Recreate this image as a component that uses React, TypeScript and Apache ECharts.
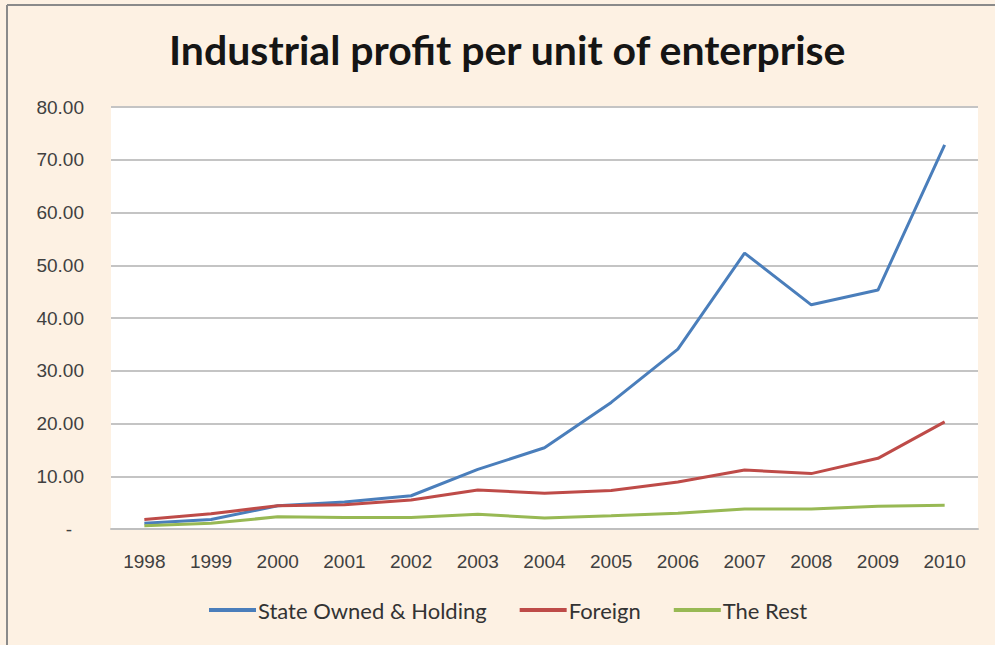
import React, { useEffect, useRef } from "react";
import * as echarts from "echarts";

const years = ["1998", "1999", "2000", "2001", "2002", "2003", "2004", "2005", "2006", "2007", "2008", "2009", "2010"];
const stateOwned = [1.1, 1.8, 4.4, 5.1, 6.3, 11.3, 15.4, 24.0, 34.1, 52.3, 42.5, 45.3, 72.8];
const foreign = [1.8, 2.9, 4.4, 4.6, 5.5, 7.4, 6.8, 7.3, 8.9, 11.2, 10.5, 13.4, 20.3];
const theRest = [0.6, 1.1, 2.3, 2.2, 2.2, 2.8, 2.1, 2.5, 3.0, 3.8, 3.8, 4.3, 4.5];
const seriesNames = ["State Owned & Holding", "Foreign", "The Rest"];
const colors = ["#4a7ebb", "#be4b48", "#98b954"];

export default function App() {
  const ref = useRef<HTMLDivElement>(null);
  useEffect(() => {
    document.body.style.margin = "0";
    const chart = echarts.init(ref.current!, null, { renderer: "svg" });
    const font = "Liberation Sans";
    chart.setOption({
      animation: false,
      backgroundColor: "#fdf1e3",
      title: {
        text: "Industrial profit per unit of enterprise",
        left: 164,
        top: 24,
        textStyle: { fontFamily: "Lato", fontWeight: "bold", fontSize: 41, color: "#151515" },
      },
      legend: {
        left: 204,
        top: 594,
        icon: "rect",
        itemWidth: 47,
        itemHeight: 4,
        itemGap: 33,
        textStyle: { fontFamily: "Lato", fontSize: 22, color: "#333", padding: [0, 0, 0, -3] },
        data: seriesNames,
      },
      grid: {
        left: 111,
        right: 17,
        top: 107,
        bottom: 116,
        show: true,
        backgroundColor: "#ffffff",
        borderWidth: 0,
      },
      xAxis: {
        type: "category",
        data: years,
        boundaryGap: true,
        axisLine: { lineStyle: { color: "#bfbfbf", width: 2 } },
        axisTick: { show: false },
        axisLabel: { fontFamily: font, fontSize: 19, color: "#404040", margin: 23 },
      },
      yAxis: {
        type: "value",
        min: 0,
        max: 80,
        interval: 10,
        axisLine: { show: false },
        axisTick: { show: false },
        splitLine: { lineStyle: { color: "#c4c4c4", width: 2 } },
        axisLabel: {
          fontFamily: font,
          fontSize: 19,
          color: "#404040",
          margin: 27,
          formatter: (v: number) => (v === 0 ? "{d|-}" : v.toFixed(2)),
          rich: { d: { fontFamily: font, fontSize: 19, color: "#404040", padding: [0, 12, 0, 0] } },
        },
      },
      series: [stateOwned, foreign, theRest].map((d, i) => ({
        name: seriesNames[i],
        type: "line",
        data: d,
        symbol: "none",
        lineStyle: { width: 3, color: colors[i] },
        itemStyle: { color: colors[i] },
      })),
      graphic: [
        { type: "line", shape: { x1: 7, y1: 5, x2: 995, y2: 5 }, style: { stroke: "#8a8a8a", lineWidth: 2 } },
        { type: "line", shape: { x1: 7, y1: 5, x2: 7, y2: 645 }, style: { stroke: "#8a8a8a", lineWidth: 2 } },
      ],
    });
    return () => chart.dispose();
  }, []);
  return <div ref={ref} style={{ width: 995, height: 645 }} />;
}
